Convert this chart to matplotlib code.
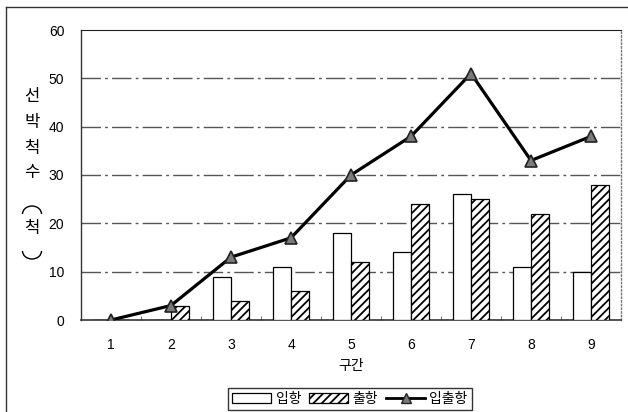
import matplotlib
matplotlib.use("Agg")
import matplotlib.pyplot as plt
import numpy as np
from matplotlib.lines import Line2D
from matplotlib.patches import Patch, Arc

plt.rcParams['font.family'] = ['Liberation Sans', 'Noto Sans CJK KR', 'DejaVu Sans']
plt.rcParams['hatch.linewidth'] = 1.3

sections = ['1', '2', '3', '4', '5', '6', '7', '8', '9']
inbound = [0, 0, 9, 11, 18, 14, 26, 11, 10]
outbound = [0, 3, 4, 6, 12, 24, 25, 22, 28]
total = [0, 3, 13, 17, 30, 38, 51, 33, 38]
yticks = [0, 10, 20, 30, 40, 50, 60]

W, H = 628, 412
fig = plt.figure(figsize=(W / 100, H / 100), dpi=100)
ax = fig.add_axes([81/W, 1-320/H, 540/W, 290/H])

x = np.arange(1, len(sections) + 1)
w = 0.3
ax.bar(x - w/2, inbound, width=w, color='white', edgecolor='black', linewidth=0.9, zorder=3)
ax.bar(x + w/2, outbound, width=w, color='white', edgecolor='black', linewidth=0.9, hatch='////', zorder=3)
ax.plot(x, total, color='black', lw=2.3, marker='^', markersize=8.5,
        markerfacecolor='#7a7a7a', markeredgecolor='#222222', markeredgewidth=1.2, zorder=4)

ax.set_xlim(0.5, 9.5)
ax.set_ylim(0, 60)
ax.set_yticks(yticks)
ax.set_xticks(x)
ax.set_xticklabels(sections)
ax.set_xticks(np.arange(1.5, 9.5, 1), minor=True)
ax.tick_params(axis='x', which='major', length=0, pad=13, labelsize=10)
ax.tick_params(axis='x', which='minor', length=3, direction='in', color='#555555')
ax.tick_params(axis='y', length=0, pad=12, labelsize=10)

for y in yticks[1:-1]:
    ax.axhline(y, color='#555555', lw=1.0, ls=(0, (14, 3, 2, 3)), zorder=1)

ax.spines['right'].set_color('#777777')
ax.spines['right'].set_linestyle(':')
ax.spines['right'].set_linewidth(1.0)
ax.spines['top'].set_color('#222222')
ax.spines['left'].set_color('#333333')
ax.spines['bottom'].set_color('#333333')
ax.spines['left'].set_linewidth(1.0)
ax.spines['bottom'].set_linewidth(1.2)

ax.set_xlabel('구간', fontsize=10, labelpad=5)

# stacked vertical y-axis title
ylab_chars = ['선', '박', '척', '수', '척']
ylab_rows = [97, 123, 148, 173, 228]
for ch, yp in zip(ylab_chars, ylab_rows):
    fig.text(32/W, 1 - yp / H, ch, fontsize=12,
             family=['Noto Sans CJK KR', 'DejaVu Sans'],
             ha='center', va='center')
# sideways parentheses around the unit
fig.add_artist(Arc((32/W, 1 - 214/H), 19/W, 16/H, theta1=0, theta2=180,
                   color='black', lw=1.0, transform=fig.transFigure))
fig.add_artist(Arc((32/W, 1 - 251/H), 19/W, 16/H, theta1=180, theta2=360,
                   color='black', lw=1.0, transform=fig.transFigure))

handles = [
    Patch(facecolor='white', edgecolor='black', linewidth=0.9),
    Patch(facecolor='white', edgecolor='black', linewidth=0.9, hatch='////'),
    Line2D([], [], color='black', lw=2, marker='^', markersize=7,
           markerfacecolor='#7a7a7a', markeredgecolor='#222222'),
]
leg = fig.legend(handles, ['입항', '출항', '입출항'], loc='center',
                 bbox_to_anchor=(350/W, 1 - 399/H), ncol=3, frameon=True,
                 fancybox=False, edgecolor='black', fontsize=10,
                 handlelength=2.8, handletextpad=0.3, columnspacing=0.6,
                 borderpad=0.3)
leg.get_frame().set_linewidth(1.0)

# outer frame lines
fig.add_artist(Line2D([6/W, 6/W], [0, 1 - 7/H], color='#333333', lw=1.0,
                      transform=fig.transFigure))
fig.add_artist(Line2D([6/W, 1], [1 - 7/H, 1 - 7/H], color='#333333', lw=1.0,
                      transform=fig.transFigure))

fig.savefig('out.png', dpi=100)
